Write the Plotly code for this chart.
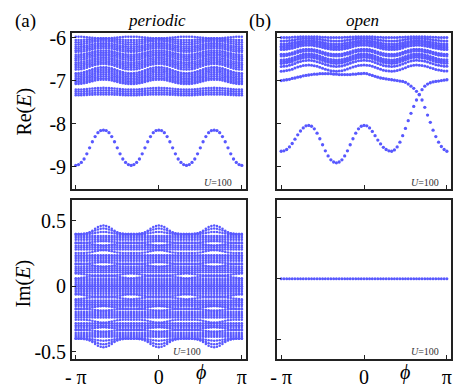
import numpy as np
import plotly.graph_objects as go

# ---------------- data ----------------
N = 61
PHI = [-np.pi + i * np.pi / 30 for i in range(N)]

# one period (2*pi/3, 20 samples) of the periodic band waviness, dip -> crest -> dip
WAVE = [-1.00, -0.95, -0.83, -0.63, -0.34, 0.00, 0.34, 0.63, 0.85, 0.98,
        1.00, 0.98, 0.85, 0.63, 0.34, 0.00, -0.34, -0.63, -0.83, -0.95]
# dome-like bump at the crests (for Im E) and at the dips
DOME_C = [0, 0, 0, 0.02, 0.08, 0.20, 0.38, 0.60, 0.80, 0.94,
          1.00, 0.94, 0.80, 0.60, 0.38, 0.20, 0.08, 0.02, 0, 0]
DOME_D = [1.00, 0.94, 0.80, 0.60, 0.38, 0.20, 0.08, 0.02, 0, 0,
          0, 0, 0, 0.02, 0.08, 0.20, 0.38, 0.60, 0.80, 0.94]

# (a) periodic, lowest band, one period
BOTTOM_A = [-8.97, -8.95, -8.90, -8.82, -8.70, -8.56, -8.42, -8.30, -8.21, -8.16,
            -8.15, -8.16, -8.21, -8.30, -8.42, -8.56, -8.70, -8.82, -8.90, -8.95]

# (a) periodic, upper bands: mean level and wave amplitude
RE_A_LEVELS = [-6.00, -6.04, -6.08, -6.12,
               -6.17, -6.21, -6.25, -6.29,
               -6.35, -6.39, -6.43, -6.47,
               -6.52, -6.56, -6.60, -6.64, -6.68,
               -6.76, -6.80, -6.84, -6.88, -6.92, -6.96, -7.00, -7.03,
               -7.19, -7.24, -7.29, -7.33]
RE_A_AMPS = [-0.02, 0.02, 0.03, 0.04,
             0.04, 0.04, 0.045, 0.045,
             0.05, 0.05, 0.05, 0.055,
             0.06, 0.06, 0.06, 0.06, 0.065,
             0.07, 0.07, 0.07, 0.07, 0.065, 0.06, 0.055, 0.05,
             0.02, 0.015, 0.012, 0.01]

# (a) periodic, Im E bands (upper half; lower half is the mirror image)
IM_A_LEVELS = [0.400, 0.400, 0.395, 0.384, 0.370, 0.356,
               0.334, 0.328, 0.310, 0.296, 0.282,
               0.254, 0.238, 0.224, 0.210, 0.196,
               0.174, 0.168, 0.150, 0.136, 0.122, 0.108,
               0.084, 0.076, 0.056, 0.042, 0.028, 0.014, 0.000]
IM_A_AMPS = [0.065, 0.042, 0.020, 0, 0, 0,
             0.010, -0.016, 0, 0, 0,
             0.022, 0, 0, 0, 0,
             0.010, -0.018, 0, 0, 0, 0,
             0.014, -0.014, 0, 0, 0, 0, 0]
IM_A_SHAPE = ['c', 'c', 'c', 'c', 'c', 'c',
              'c', 'c', 'c', 'c', 'c',
              'c', 'c', 'c', 'c', 'c',
              'c', 'c', 'c', 'c', 'c', 'c',
              'd', 'd', 'c', 'c', 'c', 'c', 'c']

# (b) open, band waviness across the full range
WAVE_B = [-1.00, -0.95, -0.83, -0.63, -0.34, 0.00, 0.34, 0.63, 0.85, 0.98,
          1.00, 0.96, 0.82, 0.58, 0.28, -0.05, -0.38, -0.66, -0.86, -0.97,
          -1.00, -0.96, -0.84, -0.62, -0.32, 0.02, 0.36, 0.64, 0.86, 0.97,
          1.00, 0.97, 0.84, 0.62, 0.30, -0.05, -0.40, -0.68, -0.88, -0.98,
          -1.00, -0.95, -0.80, -0.55, -0.22, 0.15, 0.50, 0.78, 0.94, 1.00,
          0.98, 0.88, 0.70, 0.45, 0.15, -0.15, -0.42, -0.65, -0.82, -0.93, -0.97]
RE_B_LEVELS = [-5.99, -6.05, -6.11, -6.15, -6.19, -6.23, -6.33, -6.37,
               -6.45, -6.49, -6.53, -6.60, -6.71]
RE_B_AMPS = [0.01, 0.03, 0.04, 0.05, 0.05, 0.05, 0.06, 0.06,
             0.07, 0.07, 0.07, 0.07, 0.07]

# (b) lowest continuum band (dives down near phi = 2pi/3 and crosses the edge state)
LOW_B = [-7.00, -6.99, -6.98, -6.97, -6.95, -6.94, -6.92, -6.91, -6.89, -6.88,
         -6.87, -6.86, -6.85, -6.85, -6.84, -6.84, -6.84, -6.84, -6.84, -6.85,
         -6.85, -6.86, -6.86, -6.86, -6.86, -6.86, -6.85, -6.85, -6.84, -6.84,
         -6.83, -6.84, -6.86, -6.88, -6.90, -6.92, -6.94, -6.95, -6.96, -6.97,
         -6.98, -6.99, -7.00, -7.01, -7.02, -7.04, -7.08, -7.13, -7.18, -7.25,
         -7.33, -7.45, -7.62, -7.80, -7.97, -8.15, -8.30, -8.43, -8.53, -8.60, -8.64]
# (b) in-gap edge state
EDGE_B = [-8.64, -8.63, -8.60, -8.54, -8.46, -8.36, -8.26, -8.17, -8.10, -8.05,
          -8.04, -8.06, -8.12, -8.22, -8.35, -8.49, -8.63, -8.75, -8.84, -8.89,
          -8.91, -8.89, -8.84, -8.75, -8.63, -8.49, -8.35, -8.22, -8.12, -8.06,
          -8.04, -8.05, -8.10, -8.18, -8.28, -8.38, -8.47, -8.55, -8.60, -8.63,
          -8.64, -8.61, -8.54, -8.43, -8.28, -8.11, -7.93, -7.76, -7.60, -7.45,
          -7.32, -7.21, -7.13, -7.08, -7.05, -7.03, -7.02, -7.01, -7.00, -6.99, -6.98]
# (b) open, Im E
IM_B = [0.0] * N


def tile(period):
    return period * 3 + [period[0]]


# ---------------- build point sets ----------------
def collect_re_a():
    xs, ys = [], []
    w = tile(WAVE)
    for lev, amp in zip(RE_A_LEVELS, RE_A_AMPS):
        xs += PHI
        ys += [lev + amp * v for v in w]
    return xs, ys


def collect_re_b():
    xs, ys = [], []
    for lev, amp in zip(RE_B_LEVELS, RE_B_AMPS):
        xs += PHI
        ys += [lev + amp * v for v in WAVE_B]
    return xs, ys


def collect_im_a():
    xs, ys = [], []
    dc, dd = tile(DOME_C), tile(DOME_D)
    for lev, amp, sh in zip(IM_A_LEVELS, IM_A_AMPS, IM_A_SHAPE):
        prof = dc if sh == 'c' else dd
        row = [lev + amp * v for v in prof]
        xs += PHI + PHI
        ys += row + [-v for v in row]
    return xs, ys


BLUE = 'rgb(88,88,255)'
SMALL = dict(color=BLUE, size=2.6, line=dict(width=0))
BIG = dict(color=BLUE, size=3.3, line=dict(width=0))

fig = go.Figure()
x1, y1 = collect_re_a()
fig.add_trace(go.Scatter(x=x1, y=y1, mode='markers', marker=SMALL, xaxis='x', yaxis='y', showlegend=False))
fig.add_trace(go.Scatter(x=PHI, y=tile(BOTTOM_A), mode='markers', marker=BIG, xaxis='x', yaxis='y',
                         showlegend=False))
x2, y2 = collect_re_b()
fig.add_trace(go.Scatter(x=x2, y=y2, mode='markers', marker=dict(color=BLUE, size=3.0, line=dict(width=0)),
                         xaxis='x2', yaxis='y2', showlegend=False))
fig.add_trace(go.Scatter(x=PHI + PHI, y=LOW_B + EDGE_B, mode='markers', marker=BIG, xaxis='x2', yaxis='y2',
                         showlegend=False))
x3, y3 = collect_im_a()
fig.add_trace(go.Scatter(x=x3, y=y3, mode='markers', marker=dict(color=BLUE, size=2.5, line=dict(width=0)),
                         xaxis='x3', yaxis='y3', showlegend=False))
fig.add_trace(go.Scatter(x=PHI, y=IM_B, mode='markers', marker=dict(color=BLUE, size=3, line=dict(width=0)),
                         xaxis='x4', yaxis='y4', showlegend=False))

W, H = 458, 388
SERIF = 'Liberation Serif'


def px_x(a, b):
    return [a / W, b / W]


def px_y(top, bottom):
    return [1 - bottom / H, 1 - top / H]


AX = dict(showgrid=False, zeroline=False, showline=True, mirror=True, linecolor='#222',
          linewidth=1.5, ticks='inside', ticklen=4, tickwidth=1.2, tickcolor='#222',
          tickfont=dict(family=SERIF, size=20, color='black'))

XT = [-np.pi, 0, np.pi]
XL = ['- π', '0', 'π']

fig.update_layout(
    width=W, height=H, margin=dict(l=0, r=0, t=0, b=0),
    paper_bgcolor='white', plot_bgcolor='white',
    font=dict(family=SERIF),
    xaxis=dict(AX, domain=px_x(66, 243), range=[-3.29, 3.29], anchor='y',
               tickvals=XT, showticklabels=False),
    yaxis=dict(AX, domain=px_y(27, 187), range=[-9.51, -5.90], anchor='x',
               tickvals=[-6, -7, -8, -9], ticktext=['-6', '-7', '-8', '-9']),
    xaxis2=dict(AX, domain=px_x(275, 452), range=[-np.pi - 0.15, np.pi + 0.16], anchor='y2',
                tickvals=XT, showticklabels=False),
    yaxis2=dict(AX, domain=px_y(27, 187), range=[-9.51, -5.90], anchor='x2',
                tickvals=[-6, -7, -8, -9], showticklabels=False),
    xaxis3=dict(AX, domain=px_x(66, 243), range=[-3.29, 3.29], anchor='y3',
                tickvals=XT, ticktext=XL),
    yaxis3=dict(AX, domain=px_y(199, 362), range=[-0.552, 0.656], anchor='x3',
                tickvals=[0.5, 0, -0.5], ticktext=['0.5', '0', '-0.5']),
    xaxis4=dict(AX, domain=px_x(275, 452), range=[-np.pi - 0.15, np.pi + 0.16], anchor='y4',
                tickvals=XT, ticktext=XL),
    yaxis4=dict(AX, domain=px_y(199, 362), range=[-0.66, 0.645], anchor='x4',
                tickvals=[0.5, 0, -0.5], showticklabels=False),
)


def ann(text, x, y, size, rot=0, color='black'):
    fig.add_annotation(text=text, x=x / W, y=1 - y / H, xref='paper', yref='paper',
                       showarrow=False, xanchor='center', yanchor='middle', textangle=rot,
                       font=dict(family=SERIF, size=size, color=color))


ann('(a)', 19, 14, 19)
ann('<i>periodic</i>', 153, 14, 17)
ann('(b)', 257, 14, 19)
ann('<i>open</i>', 362, 14, 17)
ann('Re(<i>E</i>)', 18, 108, 20, rot=-90)
ann('Im(<i>E</i>)', 17, 285, 20, rot=-90)
ann('<i>ϕ</i>', 197, 376, 20)
ann('<i>ϕ</i>', 405, 376, 20)
ann('<i>U</i>=100', 215, 181, 10, color='#333')
ann('<i>U</i>=100', 183, 355, 10, color='#333')
ann('<i>U</i>=100', 425, 181, 10, color='#333')
ann('<i>U</i>=100', 425, 355, 10, color='#333')

fig.write_html('out.html', config={'displayModeBar': False},
               post_script="document.body.style.margin='0';document.body.style.overflow='hidden';")
